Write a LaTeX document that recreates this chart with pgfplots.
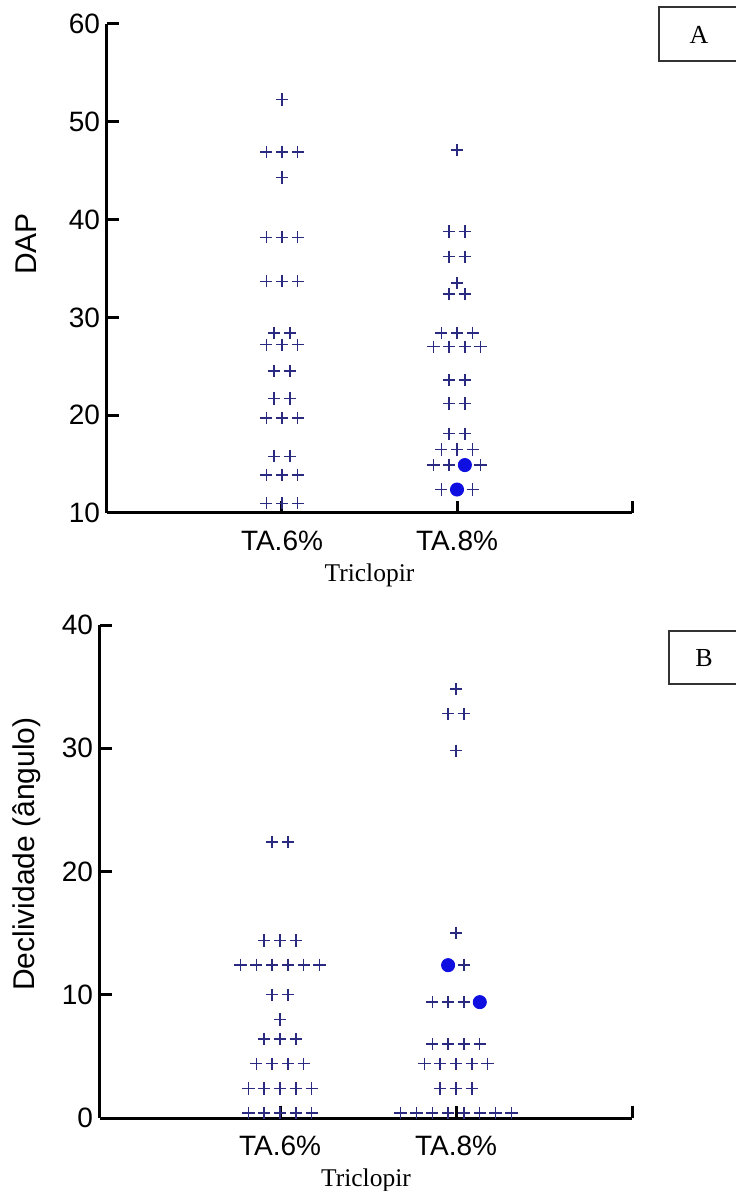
\documentclass[border=0pt]{standalone}
\usepackage{fontspec}
\setmainfont{Liberation Sans}
\newfontfamily\seriffont{Liberation Serif}
\usepackage{pgfplots}
\pgfplotsset{compat=1.18}
\definecolor{plusc}{RGB}{42,42,128}
\definecolor{dotc}{RGB}{15,15,225}
\pgfplotsset{
  common/.style={
    scale only axis, clip=false,
    axis lines=left,
    x axis line style={-}, y axis line style={-},
    axis line style={line width=1.5pt, black},
    tick align=inside,
    major tick length=6pt,
    every tick/.style={line width=1.5pt, black},
    xmin=0, xmax=3,
    xtick={1,2,3}, xticklabels={TA.6\%,TA.8\%,{}},
    ticklabel style={font=\fontsize{14}{16}\selectfont},
    xticklabel style={yshift=-5.5pt},
    /pgf/number format/assume math mode=true,
    label style={font=\fontsize{15}{17}\selectfont},
    xlabel style={font=\seriffont\fontsize{12.75}{14}\selectfont, yshift=0.5pt},
    xlabel={Triclopir},
  },
  pl/.style={only marks, mark=+, mark size=3.1pt, color=plusc, mark options={line width=0.7pt}},
  dt/.style={only marks, mark=*, mark size=3.3pt, color=dotc, mark options={draw=dotc, fill=dotc}},
}
\begin{document}
\begin{tikzpicture}
\useasboundingbox (0,0) rectangle (367.5pt,595.5pt);
% Panel A
\begin{axis}[common,
  at={(53.5pt,339pt)}, anchor=south west,
  width=262.5pt, height=244.5pt,
  ymin=10, ymax=60, ytick={10,20,30,40,50,60},
  ylabel={DAP},
  ylabel style={at={(axis description cs:-0.154,0.55)}, anchor=center},
]
\addplot[pl] coordinates {
(1,52.3)
(0.91,46.9)(1,46.9)(1.09,46.9)
(1,44.3)
(0.91,38.2)(1,38.2)(1.09,38.2)
(0.91,33.7)(1,33.7)(1.09,33.7)
(0.955,28.4)(1.045,28.4)
(0.91,27.2)(1,27.2)(1.09,27.2)
(0.955,24.5)(1.045,24.5)
(0.955,21.7)(1.045,21.7)
(0.91,19.7)(1,19.7)(1.09,19.7)
(0.955,15.8)(1.045,15.8)
(0.91,13.9)(1,13.9)(1.09,13.9)
(0.91,11.0)(1,11.0)(1.09,11.0)
};
\addplot[pl] coordinates {
(2,47.1)
(1.955,38.8)(2.045,38.8)
(1.955,36.2)(2.045,36.2)
(2,33.5)
(1.955,32.4)(2.045,32.4)
(1.91,28.4)(2,28.4)(2.09,28.4)
(1.865,27.0)(1.955,27.0)(2.045,27.0)(2.135,27.0)
(1.955,23.6)(2.045,23.6)
(1.955,21.2)(2.045,21.2)
(1.955,18.1)(2.045,18.1)
(1.91,16.5)(2,16.5)(2.09,16.5)
(1.865,14.9)(1.955,14.9)(2.135,14.9)
(1.91,12.4)(2.09,12.4)
};
\addplot[dt] coordinates {(2.045,14.9)(2,12.4)};
\end{axis}
% Panel B
\begin{axis}[common,
  at={(50pt,36.5pt)}, anchor=south west,
  xmin=-0.023,
  width=266pt, height=246.5pt,
  ymin=0, ymax=40, ytick={0,10,20,30,40},
  ylabel={Declividade (ângulo)},
  ylabel style={at={(axis description cs:-0.137,0.535)}, anchor=center},
]
\addplot[pl] coordinates {
(0.955,22.4)(1.045,22.4)
(0.91,14.4)(1,14.4)(1.09,14.4)
(0.775,12.4)(0.865,12.4)(0.955,12.4)(1.045,12.4)(1.135,12.4)(1.225,12.4)
(0.955,10.0)(1.045,10.0)
(1,8.0)
(0.91,6.4)(1,6.4)(1.09,6.4)
(0.865,4.4)(0.955,4.4)(1.045,4.4)(1.135,4.4)
(0.82,2.4)(0.91,2.4)(1,2.4)(1.09,2.4)(1.18,2.4)
(0.82,0.4)(0.91,0.4)(1,0.4)(1.09,0.4)(1.18,0.4)
};
\addplot[pl] coordinates {
(2,34.8)
(1.955,32.8)(2.045,32.8)
(2,29.8)
(2,15.0)
(2.045,12.4)
(1.865,9.4)(1.955,9.4)(2.045,9.4)
(1.865,6.0)(1.955,6.0)(2.045,6.0)(2.135,6.0)
(1.82,4.4)(1.91,4.4)(2,4.4)(2.09,4.4)(2.18,4.4)
(1.91,2.4)(2,2.4)(2.09,2.4)
(1.685,0.4)(1.775,0.4)(1.865,0.4)(1.955,0.4)(2.045,0.4)(2.135,0.4)(2.225,0.4)(2.315,0.4)
};
\addplot[dt] coordinates {(1.955,12.4)(2.135,9.4)};
\end{axis}
% panel tags
\draw[line width=0.6pt, black!80] (372pt,592pt) -- (329.5pt,592pt) -- (329.5pt,565pt) -- (372pt,565pt);
\node[font=\seriffont\fontsize{13}{15}\selectfont] at (349.5pt,578pt) {A};
\draw[line width=0.6pt, black!80] (372pt,280pt) -- (334.5pt,280pt) -- (334.5pt,253.5pt) -- (372pt,253.5pt);
\node[font=\seriffont\fontsize{13}{15}\selectfont] at (352pt,266.5pt) {B};
\end{tikzpicture}
\end{document}
